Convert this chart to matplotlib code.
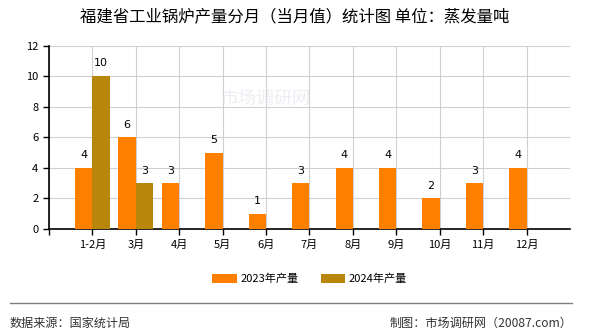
import numpy as np
import matplotlib.pyplot as plt

plt.rcParams['font.family'] = ['Noto Sans CJK SC', 'DejaVu Sans']

months = ['1-2月', '3月', '4月', '5月', '6月', '7月', '8月', '9月', '10月', '11月', '12月']
output_2023 = [4, 6, 3, 5, 1, 3, 4, 4, 2, 3, 4]
output_2024 = [10, 3]

c2023 = '#FF8000'
c2024 = '#B8860B'

fig = plt.figure(figsize=(5.9, 3.3), dpi=100)
ax = fig.add_axes([0.083, 0.306, 0.883, 0.556])

x = np.arange(len(months))
w = 0.4
b1 = ax.bar(x - w / 2, output_2023, w, color=c2023, label='2023年产量', zorder=3)
b2 = ax.bar(x[:len(output_2024)] + w / 2, output_2024, w, color=c2024, label='2024年产量', zorder=3)

for bars, vals in ((b1, output_2023), (b2, output_2024)):
    for r, v in zip(bars, vals):
        ax.text(r.get_x() + r.get_width() / 2, v + 0.5, str(v), ha='center', va='bottom',
                fontsize=8, family='DejaVu Sans')

ax.set_xlim(-1, 11)
ax.set_ylim(0, 12)
ax.set_yticks(range(0, 13, 2))
ax.set_xticks(np.arange(-1, 11))
ax.set_xticklabels([''] + months, fontsize=8)
ax.tick_params(axis='y', labelsize=8, length=4, width=1)
ax.tick_params(axis='x', length=4, width=1)
ax.grid(True, color='#d0d0d0', linewidth=0.8, zorder=0)
for s in ('top', 'right'):
    ax.spines[s].set_visible(False)
for s in ('left', 'bottom'):
    ax.spines[s].set_linewidth(1.2)

# faint watermark
fig.text(265 / 590, 1 - 100 / 330, '市场调研网', ha='center', va='center',
         fontsize=13, color='#e6e6ee', alpha=0.7, zorder=1)

fig.text(0.5, 1 - 17 / 330, '福建省工业锅炉产量分月（当月值）统计图 单位：蒸发量吨', ha='center', va='center', fontsize=11.8)

ax.legend(loc='center', bbox_to_anchor=(0.5, 1 - (279 - 45.7) / 183.3), ncol=2, frameon=False,
          fontsize=8, handlelength=2.2, handleheight=0.9, columnspacing=2, handletextpad=0.3)

fig.add_artist(plt.Line2D([0.017, 0.97], [1 - 303 / 330] * 2, color='#808080', linewidth=1, transform=fig.transFigure))
fig.text(0.017, 1 - 323 / 330, '数据来源：国家统计局', ha='left', va='center', fontsize=8.7, color='#333333')
fig.text(0.97, 1 - 323 / 330, '制图：市场调研网（20087.com）', ha='right', va='center', fontsize=8.7, color='#333333')

fig.savefig('out.png', dpi=100)
